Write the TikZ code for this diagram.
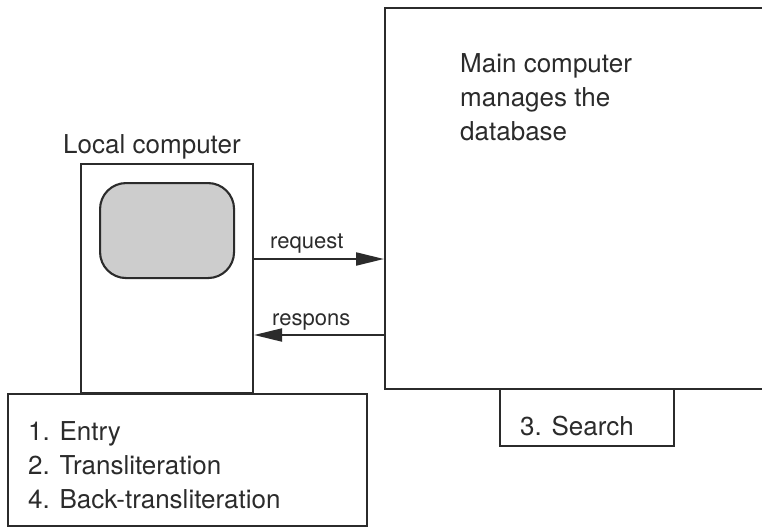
\documentclass[tikz,border=0pt]{standalone}
\usepackage{fontspec}
\setmainfont{TeX Gyre Heros}
\usetikzlibrary{arrows.meta}
\definecolor{ink}{HTML}{2B2B2B}
\definecolor{screen}{HTML}{CDCDCD}
\tikzset{
  box/.style={draw=ink, line width=2.1pt, inner sep=0pt, anchor=north west},
  txt/.style={text=ink, inner sep=0pt, anchor=base west, font=\fontsize{26}{33.7}\selectfont},
  small/.style={text=ink, inner sep=0pt, anchor=base west, font=\fontsize{22}{26}\selectfont},
  flow/.style={draw=ink, line width=2.1pt, -{Triangle[length=28pt, width=13pt]}}
}
\begin{document}
\begin{tikzpicture}[x=1pt, y=-1pt]
  \useasboundingbox (0,0) rectangle (762,527);
  \clip (0,0) rectangle (762,527);

  % main computer with its search unit
  \node[box, minimum width=420pt, minimum height=381pt] (main) at (384,7) {};
  \node[box, minimum width=174pt, minimum height=57pt] (search) at (499,388) {};
  \node[txt] (searchtxt) at (520,435) {3. Search};
  % multi-line texts are placed by the baseline of their last line
  \node[txt, align=left] (maintxt) at (460,140) {Main computer\\manages the\\database};

  % local computer, its screen and its task list
  \node[box, minimum width=172pt, minimum height=229pt] (local) at (80,163) {};
  \node[box, minimum width=359pt, minimum height=132pt] (tasks) at (7,393) {};
  \node[draw=ink, line width=2.1pt, fill=screen, rounded corners=26pt,
        minimum width=134pt, minimum height=95pt, anchor=north west] (screen) at (99,182) {};
  \node[txt] (localtxt) at (63,153) {Local computer};
  \node[txt, align=left] (taskstxt) at (28,508) {1. Entry\\2. Transliteration\\4. Back-transliteration};

  % request and response between the two computers
  \coordinate (reqA) at (local.east |- 0,259);
  \coordinate (reqB) at (main.west |- 0,259);
  \coordinate (resA) at (main.west |- 0,335);
  \coordinate (resB) at (local.east |- 0,335);
  \draw[flow] (reqA) -- (reqB);
  \draw[flow] (resA) -- (resB);
  \node[small] (reqtxt) at (270,248) {request};
  \node[small] (restxt) at (272,325) {respons};
\end{tikzpicture}
\end{document}
